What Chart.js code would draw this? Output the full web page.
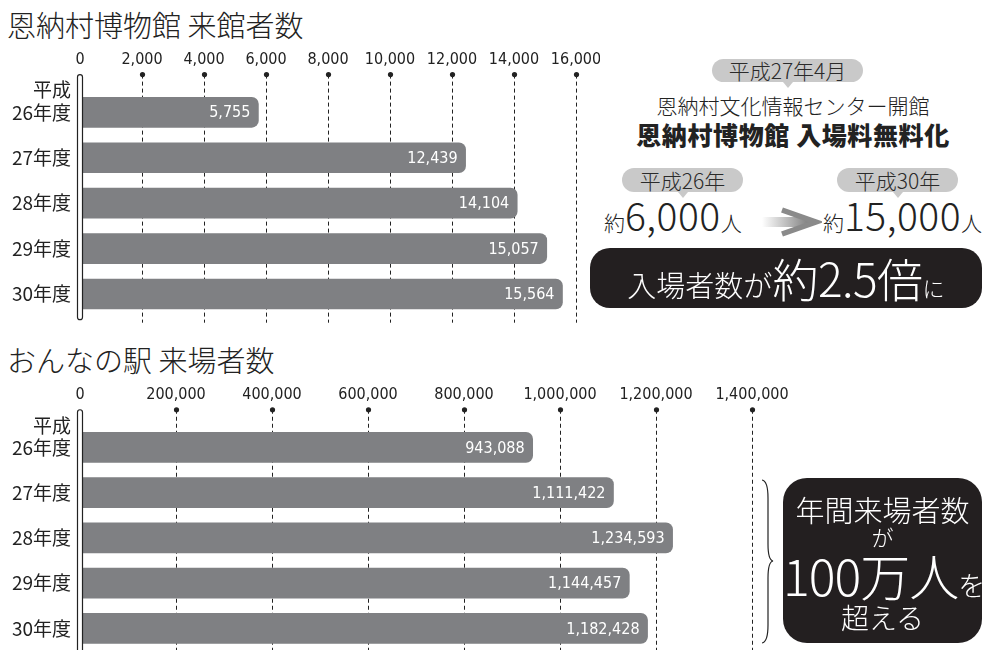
<!DOCTYPE html>
<html lang="ja">
<head>
<meta charset="UTF-8">
<title>恩納村博物館・おんなの駅 来場者数</title>
<script src="https://cdn.jsdelivr.net/npm/chart.js"></script>
<style>
  body { margin: 0; width: 985px; height: 650px; overflow: hidden; background: #fff; position: relative;
         font-family: "Noto Sans CJK JP", "Noto Sans", sans-serif; color: #222; }
  .abs { position: absolute; white-space: nowrap; }
  .title { font-size: 29px; font-weight: 300; line-height: 32px; left: 7px; }
  .pill { background: #c9c9c9; border-radius: 12px; text-align: center; font-size: 21px; font-weight: 300; color: #2a2a2a; }
  .pill::after { content: ""; position: absolute; left: 50%; bottom: -6px; margin-left: -5px;
                 border-left: 5px solid transparent; border-right: 5px solid transparent; border-top: 6px solid #c9c9c9; }
  .approx { font-weight: 300; line-height: 44px; }
  .approx .s { font-size: 21px; }
  .approx .b { font-size: 39px; letter-spacing: 0.5px; }
  .blk { background: #231f20; color: #fff; font-weight: 300; }
  canvas { position: absolute; left: 0; }
</style>
</head>
<body>

<div class="abs title" style="top:8px">恩納村博物館 来館者数</div>
<div class="abs title" style="top:343px">おんなの駅 来場者数</div>

<canvas id="museumChart" width="600" height="300" style="top:40px"></canvas>
<canvas id="stationChart" width="800" height="281" style="top:370px"></canvas>

<!-- 右上の説明 -->
<div class="abs pill" style="left:712px; top:59px; width:151px; height:23px; line-height:23px">平成27年4月</div>
<div class="abs" style="left:601px; top:93px; width:384px; text-align:center; font-size:21px; font-weight:300; line-height:24px">恩納村文化情報センター開館</div>
<div class="abs" style="left:601px; top:120px; width:384px; text-align:center; font-size:25px; font-weight:900; letter-spacing:0.6px; line-height:28px">恩納村博物館 入場料無料化</div>

<div class="abs pill" style="left:622px; top:168px; width:121px; height:24px; line-height:24px">平成26年</div>
<div class="abs pill" style="left:837px; top:168px; width:121px; height:24px; line-height:24px">平成30年</div>

<div class="abs approx" style="left:604px; top:192px"><span class="s">約</span><span class="b">6,000</span><span class="s">人</span></div>
<svg class="abs" style="left:760px; top:207px" width="62" height="30" viewBox="0 0 62 30">
  <defs>
    <linearGradient id="arrowGrad" x1="0" x2="1" y1="0" y2="0">
      <stop offset="0" stop-color="#ffffff"/>
      <stop offset="1" stop-color="#7d7d7d"/>
    </linearGradient>
  </defs>
  <rect x="2" y="10" width="48" height="10" fill="url(#arrowGrad)"/>
  <polyline points="22,3 56,15 22,27" fill="none" stroke="#8a8a8a" stroke-width="5.5" stroke-linejoin="miter"/>
</svg>
<div class="abs approx" style="left:823px; top:192px"><span class="s">約</span><span class="b">15,000</span><span class="s">人</span></div>

<div class="abs blk" style="left:590px; top:248px; width:392px; height:60px; border-radius:20px; text-align:center; line-height:58px">
  <span style="font-size:29px">入場者数が</span><span style="font-size:46px; letter-spacing:-0.5px">約2.5倍</span><span style="font-size:22px">に</span>
</div>

<!-- 右下の説明 -->
<svg class="abs" style="left:758px; top:478px" width="20" height="168" viewBox="0 0 20 168">
  <path d="M4,2 Q10,3 10,20 L10,66 Q10,82 15,83 Q10,84 10,100 L10,147 Q10,164 4,165" fill="none" stroke="#222" stroke-width="1.2"/>
</svg>
<div class="abs blk" style="left:783px; top:478px; width:199px; height:165px; border-radius:24px">
  <div class="abs" style="left:0; top:14px; width:199px; text-align:center; font-size:29px; line-height:34px">年間来場者数</div>
  <div class="abs" style="left:0; top:45px; width:199px; text-align:center; font-size:22px; line-height:26px">が</div>
  <div class="abs" style="left:0; top:68px; width:199px; text-align:center; line-height:56px"><span style="font-size:50px; letter-spacing:-1px">100万人</span><span style="font-size:27px">を</span></div>
  <div class="abs" style="left:0; top:123px; width:199px; text-align:center; font-size:28px; line-height:32px">超える</div>
</div>

<script>
  // 年度
  const years = [["平成", "26年度", ""], "27年度", "28年度", "29年度", "30年度"];

  // 恩納村博物館 来館者数
  const museumVisitors = [5755, 12439, 14104, 15057, 15564];
  const museumTicks = [0, 2000, 4000, 6000, 8000, 10000, 12000, 14000, 16000];

  // おんなの駅 来場者数
  const stationVisitors = [943088, 1111422, 1234593, 1144457, 1182428];
  const stationTicks = [0, 200000, 400000, 600000, 800000, 1000000, 1200000, 1400000];

  const narrowFont = "'Liberation Sans Narrow', 'DejaVu Sans Condensed', sans-serif";
  const jpFont = "'Noto Sans CJK JP', sans-serif";
  const barColor = "#7f8083";

  // 点線の目盛り線と上の黒丸
  const gridPlugin = {
    id: "dotGrid",
    beforeDatasetsDraw(chart, args, opts) {
      const ctx = chart.ctx, xs = chart.scales.x, area = chart.chartArea;
      const top = area.top - 15;
      ctx.save();
      xs.ticks.forEach(t => {
        if (t.value === 0) return;
        const px = Math.round(xs.getPixelForValue(t.value)) + 0.5;
        ctx.strokeStyle = "#222";
        ctx.lineWidth = 1;
        ctx.setLineDash([4, 3]);
        ctx.beginPath();
        ctx.moveTo(px, top);
        ctx.lineTo(px, area.bottom + opts.extend);
        ctx.stroke();
        ctx.setLineDash([]);
        ctx.fillStyle = "#222";
        ctx.beginPath();
        ctx.arc(px, top, 2.6, 0, Math.PI * 2);
        ctx.fill();
      });
      ctx.restore();
    },
    afterDatasetsDraw(chart, args, opts) {
      const ctx = chart.ctx, xs = chart.scales.x, area = chart.chartArea;
      ctx.save();
      // 0 の位置の縦レール
      const x0 = xs.getPixelForValue(0);
      ctx.beginPath();
      ctx.roundRect(x0 - 2.5, area.top - 15, 5, area.bottom + opts.railExtend - (area.top - 15), 2.5);
      ctx.fillStyle = "#fff";
      ctx.fill();
      ctx.strokeStyle = "#222";
      ctx.lineWidth = 1.2;
      ctx.stroke();
      // 棒の中の数値
      const meta = chart.getDatasetMeta(0);
      ctx.fillStyle = "#fff";
      ctx.font = "16px " + narrowFont;
      ctx.textAlign = "right";
      ctx.textBaseline = "middle";
      meta.data.forEach((bar, i) => {
        const v = chart.data.datasets[0].data[i];
        ctx.fillText(v.toLocaleString("en-US"), bar.x - 8, bar.y + 1);
      });
      ctx.restore();
    }
  };

  function makeChart(id, values, ticks, axisHeight, pad, extend, railExtend) {
    return new Chart(document.getElementById(id), {
      type: "bar",
      data: {
        labels: years,
        datasets: [{ data: values, backgroundColor: barColor, borderRadius: 7, borderSkipped: "start", barThickness: 30 }]
      },
      options: {
        indexAxis: "y",
        responsive: false,
        animation: false,
        layout: { padding: pad },
        plugins: { legend: { display: false }, tooltip: { enabled: false }, dotGrid: { extend: extend, railExtend: railExtend } },
        scales: {
          x: {
            position: "top",
            min: 0,
            max: ticks[ticks.length - 1],
            afterBuildTicks: s => { s.ticks = ticks.map(v => ({ value: v })); },
            afterFit: s => { s.height = axisHeight; s.paddingLeft = 0; s.paddingRight = 0; },
            grid: { display: false, drawTicks: false },
            border: { display: false },
            ticks: {
              autoSkip: false, maxRotation: 0, padding: 20, color: "#222",
              font: { family: narrowFont, size: 16 },
              callback: v => v.toLocaleString("en-US")
            }
          },
          y: {
            afterFit: s => { s.width = 80; s.paddingTop = 0; s.paddingBottom = 0; },
            grid: { display: false, drawTicks: false },
            border: { display: false },
            ticks: { autoSkip: false, padding: 9, color: "#222", font: { family: jpFont, size: 19, lineHeight: 1.16 } }
          }
        }
      },
      plugins: [gridPlugin]
    });
  }

  makeChart("museumChart", museumVisitors, museumTicks, 49.6, { top: 0, right: 24, bottom: 23.3, left: 0 }, 6, 3);
  makeChart("stationChart", stationVisitors, stationTicks, 54.75, { top: 0, right: 48, bottom: 0, left: 0 }, 10, 10);
</script>
</body>
</html>
